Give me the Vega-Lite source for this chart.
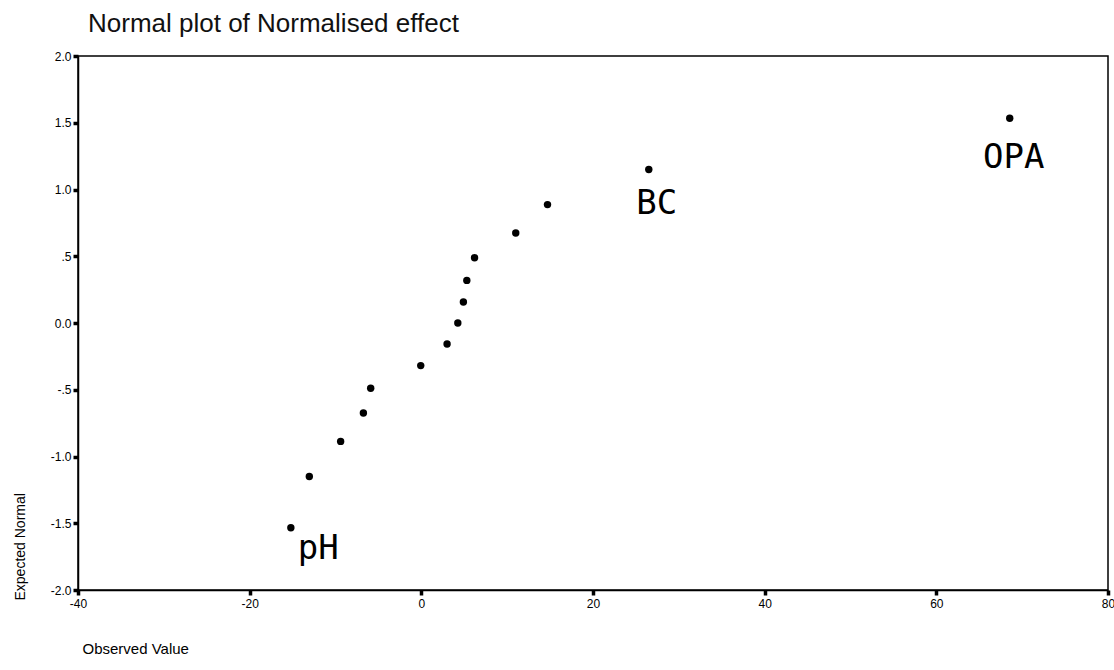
{
  "$schema": "https://vega.github.io/schema/vega-lite/v6.json",
  "width": 1030,
  "height": 534,
  "autosize": {"type": "none"},
  "padding": {"left": 78, "top": 56, "right": 6, "bottom": 80},
  "background": "white",
  "title": {
    "text": "Normal plot of Normalised effect",
    "anchor": "start",
    "frame": "group",
    "dx": 10,
    "offset": 13,
    "font": "Liberation Sans",
    "fontSize": 26,
    "fontWeight": "normal",
    "color": "#111"
  },
  "config": {
    "view": {"stroke": "black", "strokeWidth": 1.5},
    "axis": {
      "grid": false,
      "domainColor": "black",
      "domainWidth": 1.5,
      "tickColor": "black",
      "tickWidth": 3.5,
      "tickSize": 5,
      "labelFont": "Liberation Sans",
      "labelFontSize": 12,
      "labelColor": "black",
      "titleFont": "Liberation Sans",
      "titleFontWeight": "normal",
      "titleColor": "black",
      "titleFontSize": 15
    }
  },
  "data": {
    "values": [
      {"obs": -15.2, "exp": -1.534, "label": "pH"},
      {"obs": -13.05, "exp": -1.150, "label": ""},
      {"obs": -9.4, "exp": -0.887, "label": ""},
      {"obs": -6.75, "exp": -0.674, "label": ""},
      {"obs": -5.9, "exp": -0.489, "label": ""},
      {"obs": -0.07, "exp": -0.319, "label": ""},
      {"obs": 3.0, "exp": -0.157, "label": ""},
      {"obs": 4.25, "exp": 0.0, "label": ""},
      {"obs": 4.9, "exp": 0.157, "label": ""},
      {"obs": 5.3, "exp": 0.319, "label": ""},
      {"obs": 6.2, "exp": 0.489, "label": ""},
      {"obs": 11.0, "exp": 0.674, "label": ""},
      {"obs": 14.7, "exp": 0.887, "label": ""},
      {"obs": 26.5, "exp": 1.150, "label": "BC"},
      {"obs": 68.55, "exp": 1.534, "label": "OPA"}
    ]
  },
  "encoding": {
    "x": {
      "field": "obs",
      "type": "quantitative",
      "scale": {"domain": [-40, 80], "nice": false, "zero": false},
      "axis": {
        "values": [-40, -20, 0, 20, 40, 60, 80],
        "labelExpr": "(datum.value < 0 ? '-' : '') + abs(datum.value)",
        "title": "Observed Value",
        "titleAnchor": "start",
        "titleAlign": "left",
        "titleX": 4,
        "titleY": 58,
        "titleBaseline": "middle",
        "labelPadding": 3,
        "labelFlush": false
      }
    },
    "y": {
      "field": "exp",
      "type": "quantitative",
      "scale": {"domain": [-2, 2], "nice": false, "zero": false},
      "axis": {
        "values": [-2, -1.5, -1, -0.5, 0, 0.5, 1, 1.5, 2],
        "labelExpr": "datum.value == 0.5 ? '.5' : datum.value == -0.5 ? '-.5' : (datum.value < 0 ? '-' : '') + format(abs(datum.value), '.1f')",
        "title": "Expected Normal",
        "titleAngle": -90,
        "titleAlign": "left",
        "titleBaseline": "middle",
        "titleX": -58,
        "titleY": 544,
        "titleFontSize": 14,
        "labelPadding": 2,
        "labelFlush": false
      }
    }
  },
  "layer": [
    {
      "mark": {"type": "circle", "size": 55, "color": "black", "opacity": 1}
    },
    {
      "transform": [{"filter": "datum.label == 'pH'"}],
      "mark": {"type": "text", "align": "left", "baseline": "top", "dx": 7, "dy": 4, "font": "DejaVu Sans Mono", "fontSize": 34, "color": "black"},
      "encoding": {"text": {"field": "label"}}
    },
    {
      "transform": [{"filter": "datum.label == 'BC'"}],
      "mark": {"type": "text", "align": "center", "baseline": "top", "dx": 8, "dy": 18, "font": "DejaVu Sans Mono", "fontSize": 34, "color": "black"},
      "encoding": {"text": {"field": "label"}}
    },
    {
      "transform": [{"filter": "datum.label == 'OPA'"}],
      "mark": {"type": "text", "align": "center", "baseline": "top", "dx": 4, "dy": 23, "font": "DejaVu Sans Mono", "fontSize": 34, "color": "black"},
      "encoding": {"text": {"field": "label"}}
    }
  ]
}
